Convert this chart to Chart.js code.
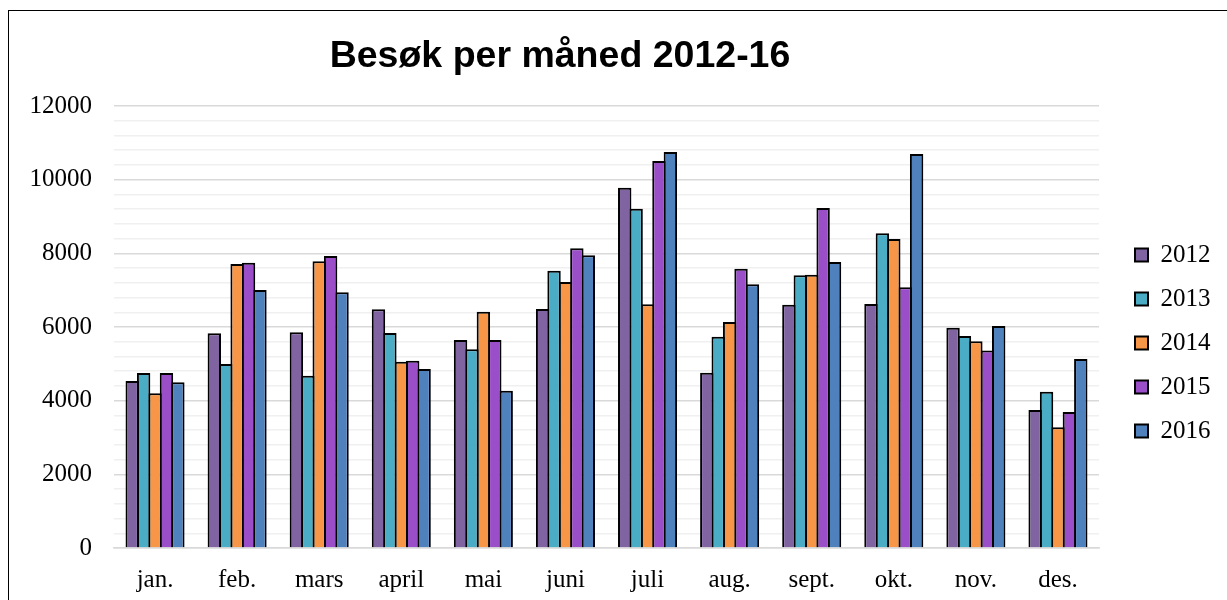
<!DOCTYPE html>
<html>
<head>
<meta charset="utf-8">
<script src="https://cdn.jsdelivr.net/npm/chart.js@4.4.1/dist/chart.umd.min.js"></script>
<style>
  html, body { margin: 0; padding: 0; background: #fff; overflow: hidden; }
  #frame { position: absolute; left: 8px; top: 10px; width: 1230px; height: 600px; border: 1.5px solid #000; box-sizing: border-box; }
  #c { position: absolute; left: 9px; top: 11px; }
</style>
</head>
<body>
<div id="frame"></div>
<canvas id="c" width="1217" height="589"></canvas>
<script>
const chartTitle = 'Besøk per måned 2012-16';
const months = ['jan.', 'feb.', 'mars', 'april', 'mai', 'juni', 'juli', 'aug.', 'sept.', 'okt.', 'nov.', 'des.'];
const years = ['2012', '2013', '2014', '2015', '2016'];
const v2012 = [4534, 5829, 5856, 6481, 5647, 6489, 9781, 4760, 6606, 6625, 5982, 3747];
const v2013 = [4751, 4996, 4678, 5837, 5394, 7529, 9213, 5737, 7403, 8544, 5756, 4244];
const v2014 = [4200, 7711, 7784, 5058, 6416, 7222, 6615, 6136, 7421, 8390, 5610, 3277];
const v2015 = [4751, 7746, 7928, 5085, 5647, 8136, 10507, 7583, 9231, 7078, 5360, 3692];
const v2016 = [4498, 7005, 6942, 4860, 4271, 7946, 10751, 7159, 7765, 10697, 6027, 5131];
const yTickLabels = [0, 2000, 4000, 6000, 8000, 10000, 12000];
const colors = ['#8064A2', '#4BACC6', '#F79646', '#9A4FC9', '#4F81BD'];
const seriesValues = [v2012, v2013, v2014, v2015, v2016];

const serif = "'Liberation Serif', 'DejaVu Serif', serif";

const titlePlugin = {
  id: 'freeTitle',
  afterDraw(chart) {
    const ctx = chart.ctx;
    ctx.save();
    ctx.font = "bold 37.5px 'Liberation Sans', Arial, sans-serif";
    ctx.fillStyle = '#000';
    ctx.textAlign = 'center';
    ctx.textBaseline = 'middle';
    ctx.fillText(chartTitle, 551, 46);
    ctx.restore();
  }
};

new Chart(document.getElementById('c'), {
  type: 'bar',
  data: {
    labels: months,
    datasets: years.map((y, i) => ({
      label: y,
      data: seriesValues[i],
      backgroundColor: colors[i],
      borderColor: '#000',
      borderWidth: 2,
      borderSkipped: 'start',
      categoryPercentage: 0.695,
      barPercentage: 1.175,
      yAxisID: 'y'
    }))
  },
  plugins: [titlePlugin],
  options: {
    responsive: false,
    animation: false,
    devicePixelRatio: 1,
    layout: { padding: { top: 95, left: 0, right: 5.5, bottom: 0 } },
    plugins: {
      title: { display: false },
      tooltip: { enabled: false },
      legend: {
        position: 'right',
        fullSize: false,
        title: { display: true, text: ' ', font: { size: 12, lineHeight: 1.2 }, padding: { top: 8.8, bottom: 8.8 } },
        labels: {
          boxWidth: 13,
          boxHeight: 13,
          padding: 19,
          color: '#000',
          font: { family: serif, size: 25 }
        }
      }
    },
    scales: {
      x: {
        grid: { display: false, drawTicks: false },
        border: { display: true, color: '#d9d9d9', width: 1.5 },
        ticks: { color: '#000', font: { family: serif, size: 25 }, padding: 17, maxRotation: 0 },
        afterFit(s) { s.height = 52; }
      },
      y: {
        min: 0,
        max: 12000,
        grid: {
          drawTicks: false,
          color: (c) => (c.tick && yTickLabels.includes(c.tick.value)) ? '#d9d9d9' : '#f0f0f0',
          lineWidth: 1.5
        },
        border: { display: false },
        ticks: {
          stepSize: 400,
          autoSkip: false,
          color: '#000',
          font: { family: serif, size: 25 },
          padding: 22,
          callback: (v) => yTickLabels.includes(v) ? String(v) : ''
        },
        afterFit(s) { s.width = 105; }
      },
      spacer: {
        type: 'linear',
        position: 'right',
        display: true,
        grid: { display: false, drawTicks: false },
        border: { display: false },
        ticks: { display: false },
        afterFit(s) { s.width = 17; }
      }
    }
  }
});
</script>
</body>
</html>
